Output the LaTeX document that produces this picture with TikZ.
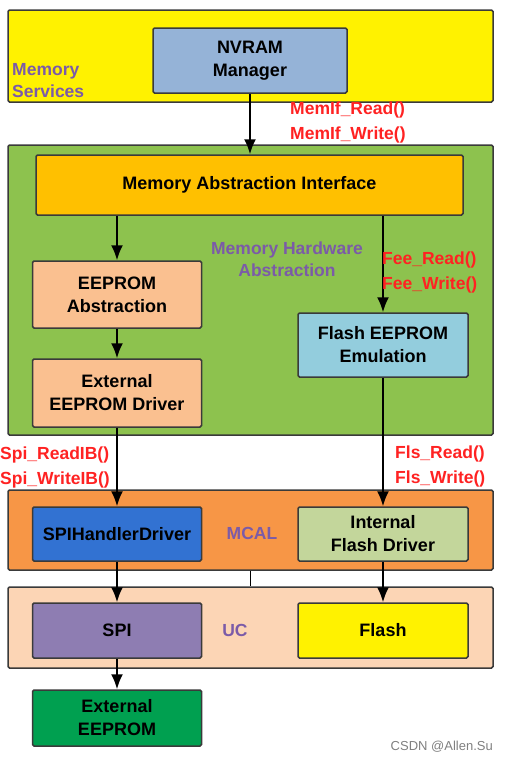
\documentclass[tikz,border=0pt]{standalone}
\usepackage{fontspec}
\setmainfont{Liberation Sans}
\usepackage{xcolor}
\usepackage{tikz}
\usetikzlibrary{calc, arrows.meta, positioning}

\definecolor{msyellow}{HTML}{FFF200}
\definecolor{nvblue}{HTML}{95B3D7}
\definecolor{hwgreen}{HTML}{8DC24E}
\definecolor{maiorange}{HTML}{FFC000}
\definecolor{eeorange}{HTML}{FAC090}
\definecolor{feeblue}{HTML}{93CDDD}
\definecolor{mcalorange}{HTML}{F79646}
\definecolor{spiblue}{HTML}{3272D2}
\definecolor{ifdgreen}{HTML}{C3D69B}
\definecolor{ucpeach}{HTML}{FCD5B5}
\definecolor{spipurple}{HTML}{8E7DB2}
\definecolor{exgreen}{HTML}{00A050}
\definecolor{apired}{HTML}{FF2222}
\definecolor{layerpurple}{HTML}{7B5BA8}
\definecolor{edgegray}{HTML}{3A3A3A}

\tikzset{
    layer/.style={draw=edgegray, line width=1.5pt, rounded corners=1.5pt, inner sep=0pt},
    module/.style={draw=edgegray, line width=1.5pt, rounded corners=1.5pt, inner sep=0pt,
        align=center, font=\bfseries\fontsize{18}{23}\selectfont},
    apilabel/.style={text=apired, align=left, anchor=west, inner sep=0pt,
        font=\bfseries\fontsize{17.5}{25}\selectfont},
    layername/.style={text=layerpurple, inner sep=0pt,
        font=\bfseries\fontsize{17.5}{22}\selectfont},
    link/.style={line width=1.8pt},
}

\begin{document}
\begin{tikzpicture}[x=1pt, y=-1pt, >={Latex[length=15pt, width=12pt]}]
    \useasboundingbox[fill=white] (0,0) rectangle (507,761);

    % 1. Cac lop nen
    \node[layer, fill=msyellow, minimum width=485pt, minimum height=92pt] (ms) at (250.5,56) {};
    \node[layer, fill=hwgreen, minimum width=485pt, minimum height=290pt] (mha) at (250.5,290) {};
    \node[layer, fill=mcalorange, minimum width=485pt, minimum height=80pt] (mcal) at (250.5,530) {};
    \node[layer, fill=ucpeach, minimum width=485pt, minimum height=81pt] (uc) at (250.5,627.5) {};

    % 2. Ten cac lop
    \node[layername, align=left, anchor=west] (msname) at (12,81) {Memory\\Services};
    \node[layername, align=center] (mhaname) at (287,259) {Memory Hardware\\Abstraction};
    \node[layername] (mcalname) at (252,533) {MCAL};
    \node[layername] (ucname) at (235,630) {UC};

    % 3. Cac module
    \node[module, fill=nvblue, minimum width=194pt, minimum height=65pt] (nvram) at (250,60.5) {NVRAM\\Manager};
    \node[module, fill=maiorange, minimum width=427pt, minimum height=60pt] (mai) at (249.5,185) {Memory Abstraction Interface};
    \node[module, fill=eeorange, minimum width=169pt, minimum height=67pt] (eeabs) at (117,294.5) {EEPROM\\Abstraction};
    \node[module, fill=eeorange, minimum width=169pt, minimum height=68pt] (exdrv) at (117,393) {External\\EEPROM Driver};
    \node[module, fill=feeblue, minimum width=170pt, minimum height=64pt] (fee) at (383,345) {Flash EEPROM\\Emulation};
    \node[module, fill=spiblue, minimum width=169pt, minimum height=54pt] (spihd) at (117,534) {SPIHandlerDriver};
    \node[module, fill=ifdgreen, minimum width=170pt, minimum height=54pt] (ifd) at (383,534) {Internal\\Flash Driver};
    \node[module, fill=spipurple, minimum width=169pt, minimum height=55pt] (spi) at (117,630.5) {SPI};
    \node[module, fill=msyellow, minimum width=170pt, minimum height=55pt] (flash) at (383,630.5) {Flash};
    \node[module, fill=exgreen, minimum width=169pt, minimum height=56pt] (exee) at (117,718) {External\\EEPROM};

    % 4. Cac mui ten
    \draw[->, link] (nvram.south) -- (nvram.south |- mai.north);
    \draw[->, link] (mai.south -| eeabs.north) -- (eeabs.north);
    \draw[->, link] (mai.south -| fee.north) -- (fee.north);
    \draw[->, link] (eeabs.south) -- (exdrv.north);
    \draw[->, link] (exdrv.south) -- (spihd.north);
    \draw[->, link] (fee.south) -- (ifd.north);
    \draw[->, link] (spihd.south) -- (spi.north);
    \draw[->, link] (ifd.south) -- (flash.north);
    \draw[->, link] (spi.south) -- (exee.north);
    \draw[link] (mcal.south) -- (uc.north);

    % 5. Nhan API
    \node[apilabel] (memif) at (290,122) {MemIf\_Read()\\MemIf\_Write()};
    \node[apilabel] (feeapi) at (382,272) {Fee\_Read()\\Fee\_Write()};
    \node[apilabel] (spiapi) at (0,467) {Spi\_ReadIB()\\Spi\_WriteIB()};
    \node[apilabel] (flsapi) at (395,466) {Fls\_Read()\\Fls\_Write()};

    % 6. Watermark
    \node[text=gray, anchor=east, inner sep=0pt, font=\fontsize{13}{15}\selectfont] (mark) at (493,747) {CSDN @Allen.Su};
\end{tikzpicture}
\end{document}
